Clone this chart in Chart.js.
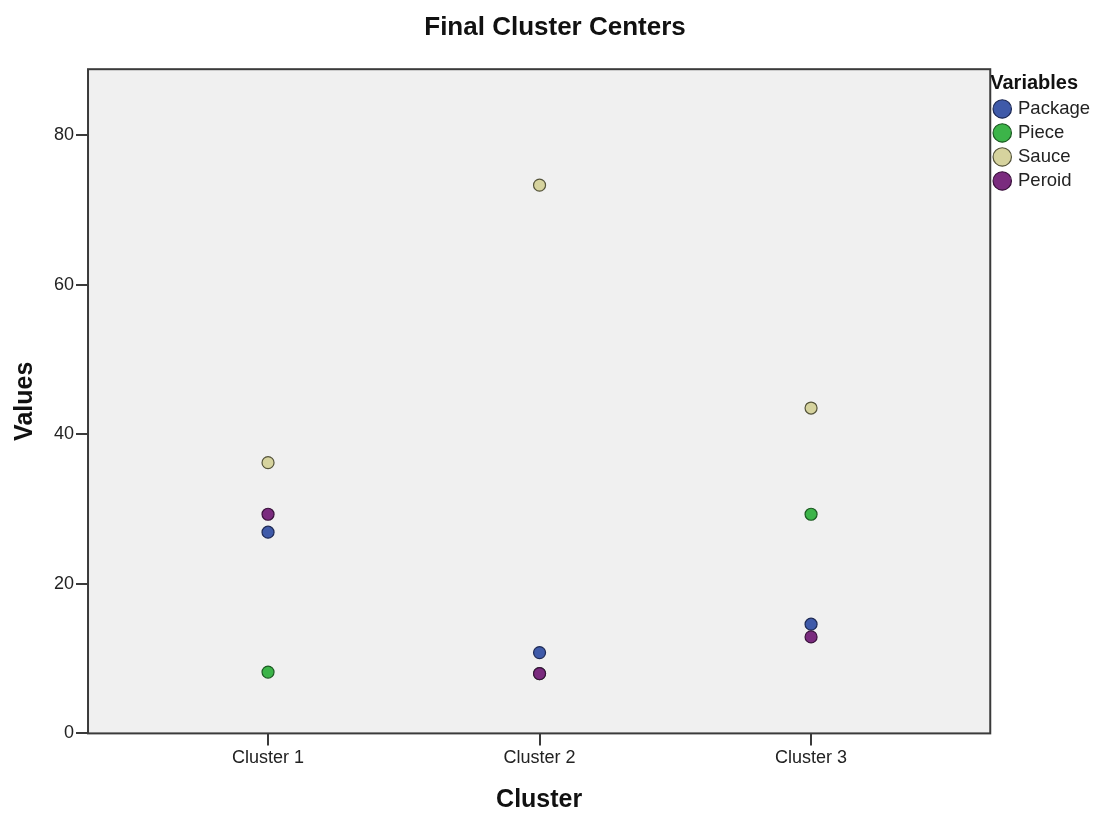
<!DOCTYPE html>
<html lang="en">
  <head>
    <meta charset="UTF-8">
    <script src="https://cdn.jsdelivr.net/npm/chart.js"></script>
    <style>
      html, body { margin: 0; padding: 0; background: #fff; }
      .chart-container { width: 1100px; height: 815px; }
    </style>
  </head>
  <body>
<div class="chart-container">
  <canvas id="clusterChart"></canvas>
</div>

<script>
  // chart data
  const clusters = ['Cluster 1', 'Cluster 2', 'Cluster 3'];
  const packageValues = [26.9, 10.8, 14.6];
  const pieceValues = [8.2, 8.0, 29.3];
  const sauceValues = [36.2, 73.3, 43.5];
  const peroidValues = [29.3, 8.0, 12.9];
  const yTicks = [0, 20, 40, 60, 80];

  const FONT = "'Liberation Sans', Arial, sans-serif";

  function toPoints(values) {
    return values.map((v, i) => ({ x: i + 1, y: v }));
  }

  function series(label, values, fill, stroke, order) {
    return {
      label: label,
      data: toPoints(values),
      backgroundColor: fill,
      borderColor: stroke,
      borderWidth: 1.2,
      pointRadius: 6,
      pointHoverRadius: 6,
      order: order
    };
  }

  // gray plot background + frame around the chart area
  const plotFrame = {
    id: 'plotFrame',
    beforeDraw(chart) {
      const a = chart.chartArea;
      const ctx = chart.ctx;
      ctx.save();
      ctx.fillStyle = '#f0f0f0';
      ctx.fillRect(a.left, a.top, a.right - a.left, a.bottom - a.top);
      ctx.restore();
    },
    afterDraw(chart) {
      const a = chart.chartArea;
      const ctx = chart.ctx;
      ctx.save();
      ctx.strokeStyle = '#3a3a3a';
      ctx.lineWidth = 2;
      ctx.strokeRect(a.left, a.top, a.right - a.left, a.bottom - a.top);
      ctx.restore();
    }
  };

  const config = {
    type: 'scatter',
    data: {
      datasets: [
        series('Package', packageValues, '#3f5aa9', '#1e2a55', 4),
        series('Piece', pieceValues, '#3cb449', '#1c5a22', 3),
        series('Sauce', sauceValues, '#d6d39e', '#55543a', 2),
        series('Peroid', peroidValues, '#7a2b7e', '#3a123c', 1)
      ]
    },
    options: {
      responsive: true,
      maintainAspectRatio: false,
      animation: false,
      layout: { padding: { top: 0, right: 0, bottom: 0, left: 10 } },
      plugins: {
        tooltip: { enabled: false },
        title: {
          display: true,
          text: 'Final Cluster Centers',
          color: '#111',
          font: { family: FONT, size: 26, weight: 'bold' },
          padding: { top: 12, bottom: 26 }
        },
        legend: {
          position: 'right',
          align: 'start',
          fullSize: false,
          title: {
            display: true,
            text: 'Variables',
            color: '#111',
            font: { family: FONT, size: 20, weight: 'bold' },
            padding: { top: 4, bottom: -3 },
            position: 'start'
          },
          labels: {
            usePointStyle: true,
            pointStyle: 'circle',
            boxWidth: 13,
            boxHeight: 13,
            padding: 5.5,
            color: '#222',
            font: { family: FONT, size: 18.5 },
            sort: (a, b) => a.datasetIndex - b.datasetIndex
          }
        }
      },
      scales: {
        x: {
          type: 'linear',
          min: 0.337,
          max: 3.66,
          afterBuildTicks: (scale) => {
            scale.ticks = clusters.map((c, i) => ({ value: i + 1 }));
          },
          ticks: {
            color: '#222',
            font: { family: FONT, size: 18 },
            padding: 2,
            callback: (v) => clusters[v - 1]
          },
          grid: { display: true, drawOnChartArea: false, drawTicks: true, tickLength: 12, color: '#3a3a3a', lineWidth: 2 },
          border: { display: false },
          title: {
            display: true,
            text: 'Cluster',
            color: '#111',
            font: { family: FONT, size: 25, weight: 'bold' },
            padding: { top: 14, bottom: 0 }
          }
        },
        y: {
          min: 0,
          max: 88.8,
          afterBuildTicks: (scale) => {
            scale.ticks = yTicks.map((v) => ({ value: v }));
          },
          ticks: {
            color: '#222',
            font: { family: FONT, size: 18 },
            padding: 2
          },
          grid: { display: true, drawOnChartArea: false, drawTicks: true, tickLength: 12, color: '#3a3a3a', lineWidth: 2 },
          border: { display: false },
          title: {
            display: true,
            text: 'Values',
            color: '#111',
            font: { family: FONT, size: 25, weight: 'bold' },
            padding: { top: 0, bottom: 12 }
          }
        }
      }
    },
    plugins: [plotFrame]
  };

  const clusterChart = new Chart(document.getElementById('clusterChart'), config);
</script>
  </body>
</html>
